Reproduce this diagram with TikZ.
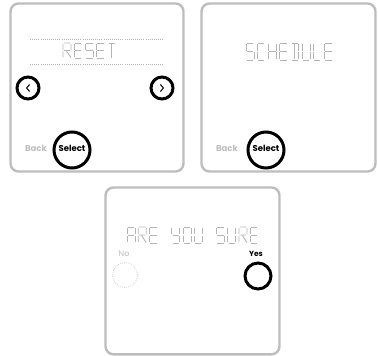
\documentclass[tikz,border=0pt]{standalone}
\usepackage{fontspec}
\setmainfont{Poppins}
\definecolor{frame}{HTML}{BDBDBD}
\definecolor{seg}{HTML}{B4B4B4}
\definecolor{lightlab}{HTML}{BEBEBE}
\def\sA{(0.8,0)--(7.2,0)}
\def\sB{(8,0.8)--(8,7.2)}
\def\sC{(8,8.8)--(8,15.2)}
\def\sD{(0.8,16)--(7.2,16)}
\def\sE{(0,8.8)--(0,15.2)}
\def\sF{(0,0.8)--(0,7.2)}
\def\sG{(0.8,8)--(7.2,8)}
\tikzset{
  segline/.style={draw=seg,line width=0.9pt,line cap=butt},
  panel/.style={draw=frame,line width=2.4pt,rounded corners=8pt},
  ring/.style={draw=black,line width=3pt,circle,inner sep=0pt},
  backlab/.style={text=lightlab,font=\bfseries\fontsize{8.5}{8.5}\selectfont,inner sep=0pt},
  sellab/.style={text=black,font=\bfseries\fontsize{8.5}{8.5}\selectfont,inner sep=0pt},
  lcdA/.pic={\path[segline] \sA \sB \sC \sE \sF \sG;},
  lcdC/.pic={\path[segline] \sA \sD \sE \sF;},
  lcdD/.pic={\path[segline] \sA \sB \sC \sD (4,0.8)--(4,15.2);},
  lcdE/.pic={\path[segline] \sA \sD \sE \sF \sG;},
  lcdH/.pic={\path[segline] \sB \sC \sE \sF \sG;},
  lcdL/.pic={\path[segline] \sD \sE \sF;},
  lcdO/.pic={\path[segline] \sA \sB \sC \sD \sE \sF;},
  lcdR/.pic={\path[segline] \sA \sB \sE \sF \sG (3.6,8.8)--(8,15.6);},
  lcdS/.pic={\path[segline] \sA \sF \sG \sC \sD;},
  lcdT/.pic={\path[segline] \sA (4,0.8)--(4,16);},
  lcdU/.pic={\path[segline] \sB \sC \sD \sE \sF;},
  lcdY/.pic={\path[segline] \sB \sC \sD \sF \sG;},
}
\begin{document}
\begin{tikzpicture}[x=1pt,y=-1pt]
\useasboundingbox (0,0) rectangle (378,356);
% panels
\draw[panel] (10.5,3.5) rectangle (183.5,171.5);
\draw[panel] (201.5,3.5) rectangle (375.5,171.5);
\draw[panel] (105.5,187.5) rectangle (279.5,354.3);
% panel 1
\coordinate (d1l) at (30,39.5); \coordinate (d1r) at (163,39.5);
\coordinate (d2l) at (30,64); \coordinate (d2r) at (163,64);
\draw[seg,line width=0.6pt,dash pattern=on 0.6pt off 1.5pt] (d1l) -- (d1r);
\draw[seg,line width=0.6pt,dash pattern=on 0.6pt off 1.5pt] (d2l) -- (d2r);
\foreach \L [count=\i from 0] in {R,E,S,E,T}
  \pic[yscale=15/16] at ({63+11.2*\i},43) {lcd\L};
\node[ring,minimum size=22pt] (lbtn) at (28,88) {};
\node[ring,minimum size=22pt] (rbtn) at (162,88) {};
\draw[line width=1pt] ([shift={(1.6,-3.6)}]lbtn.center) -- ([shift={(-1.4,0)}]lbtn.center) -- ([shift={(1.6,3.6)}]lbtn.center);
\draw[line width=1pt] ([shift={(-1.6,-3.6)}]rbtn.center) -- ([shift={(1.4,0)}]rbtn.center) -- ([shift={(-1.6,3.6)}]rbtn.center);
\node[backlab] (back1) at (36,148) {Back};
\node[ring,minimum size=36pt] (sel1) at (72,150) {};
\node[sellab] (sel1t) at (72,148.5) {Select};
% panel 2
\foreach \L [count=\i from 0] in {S,C,H,E,D,U,L,E}
  \pic[yscale=17/16] at ({246+11.2*\i},43) {lcd\L};
\node[backlab] (back2) at (227,148) {Back};
\node[ring,minimum size=36pt] (sel2) at (266,150) {};
\node[sellab] (sel2t) at (266,148.5) {Select};
% panel 3
\foreach \L [count=\i from 0] in {A,R,E}
  \pic at ({127+11.2*\i},227) {lcd\L};
\foreach \L [count=\i from 0] in {Y,O,U}
  \pic at ({127+11.2*(\i+4)},227) {lcd\L};
\foreach \L [count=\i from 0] in {S,U,R,E}
  \pic at ({127+11.2*(\i+8)},227) {lcd\L};
\node[text=lightlab,font=\fontsize{8}{8}\selectfont,inner sep=0pt] (no) at (124,254) {No};
\node[circle,draw=seg,line width=0.6pt,dash pattern=on 0.6pt off 1.4pt,minimum size=25pt,inner sep=0pt] (nobtn) at (125,275) {};
\node[text=black,font=\bfseries\fontsize{7.5}{7.5}\selectfont,inner sep=0pt] (yes) at (256,254) {Yes};
\node[ring,minimum size=26pt] (yesbtn) at (258,276) {};
\end{tikzpicture}
\end{document}
